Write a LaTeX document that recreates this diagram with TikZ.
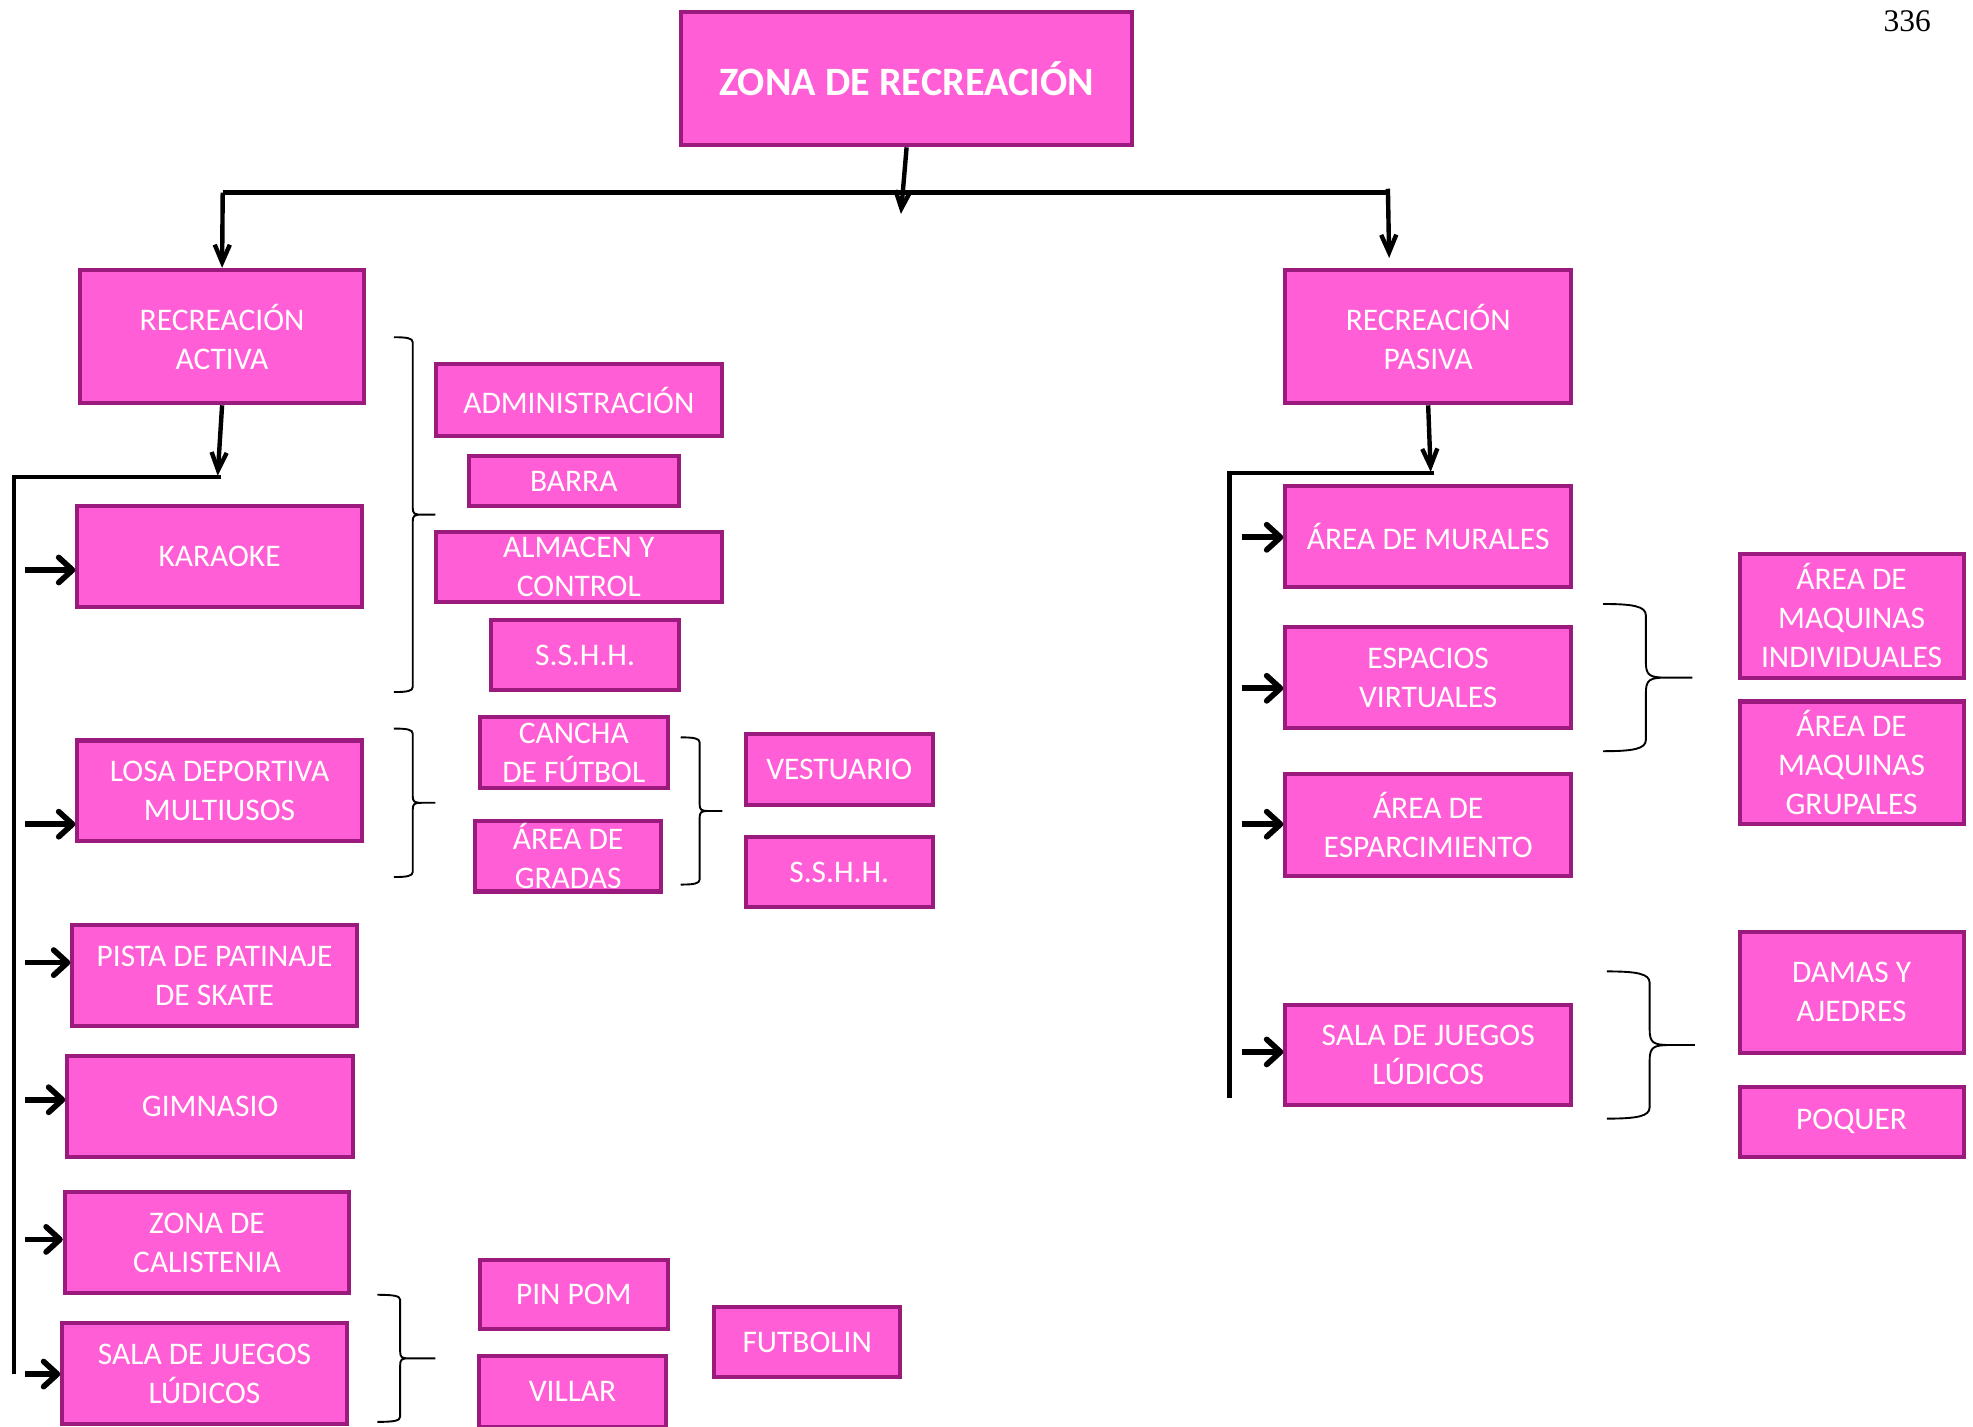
\documentclass[tikz,border=0pt]{standalone}
\usepackage{fontspec}
\setmainfont{Carlito}
\newfontfamily\pagina{Liberation Serif}
\usepackage{xcolor}
\usepackage{tikz}
\usetikzlibrary{arrows.meta}
\definecolor{rosa}{RGB}{255,94,214}
\definecolor{rosaborde}{RGB}{155,26,126}

\begin{document}
\begin{tikzpicture}[x=1pt,y=-1pt,
  caja/.style={draw=rosaborde,fill=rosa,line width=3.2pt,text=white,align=center,inner sep=0pt,
    font=\fontsize{25}{31}\selectfont},
  linea/.style={line width=3.5pt},
  flecha/.style={line width=4.5pt,-{Straight Barb[length=11pt,width=20pt,line width=4.5pt,round]}},
  bajada/.style={line width=3.5pt,-{Straight Barb[length=14pt,width=12pt,line width=3.5pt]}},
  llave/.style={line width=1.5pt}]
 \useasboundingbox (0,0) rectangle (1568,1134);
 % --- cabecera ---
 \node[caja,minimum width=358pt,minimum height=106pt,font=\fontsize{32}{38}\selectfont\bfseries] (zona) at (720.5,62.5) {ZONA DE RECREACIÓN};
 \node[font=\fontsize{25}{30}\pagina,anchor=base east] (pag) at (1538,25) {336};
 \node[caja,minimum width=226pt,minimum height=106pt] (activa) at (176.5,267.5) {RECREACIÓN\\ACTIVA};
 \node[caja,minimum width=227pt,minimum height=106pt] (pasiva) at (1135,267.5) {RECREACIÓN\\PASIVA};
 \coordinate (ti) at (177,153);
 \coordinate (td) at (1103,153);
 \coordinate (tz) at (716,170);
 \coordinate (tp) at (1104,205);
 \draw[bajada] (zona.south) -- (tz);
 \draw[linea] (ti) -- (td);
 \draw[bajada] (ti) -- (activa.north);
 \draw[bajada] (1103,150) -- (tp);
 % --- recreacion activa ---
 \node[caja,minimum width=226pt,minimum height=80pt] (karaoke) at (174.5,442.5) {KARAOKE};
 \node[caja,minimum width=226pt,minimum height=80pt] (losa) at (174.5,628.5) {LOSA DEPORTIVA\\MULTIUSOS};
 \node[caja,minimum width=226pt,minimum height=80pt] (pista) at (170.5,775.5) {PISTA DE PATINAJE\\DE SKATE};
 \node[caja,minimum width=227pt,minimum height=80pt] (gimnasio) at (167,879.5) {GIMNASIO};
 \node[caja,minimum width=226pt,minimum height=80pt] (calistenia) at (164.5,987.5) {ZONA DE\\CALISTENIA};
 \node[caja,minimum width=226pt,minimum height=80pt] (salaa) at (162.5,1091.5) {SALA DE JUEGOS\\LÚDICOS};
 \coordinate (ai) at (11,379);
 \coordinate (ad) at (176,379);
 \coordinate (ab) at (11,1092);
 \draw[bajada] (activa.south) -- (173,378);
 \draw[linea] (ad) -- (ai) -- (ab);
 \foreach \n/\y in {karaoke/453,losa/655,pista/765,gimnasio/874,calistenia/985,salaa/1092} {
   \coordinate (f\n) at (20,\y);
   \draw[flecha] (f\n) -- (\n.west |- f\n);
 }
 \node[caja,minimum width=227pt,minimum height=57pt] (admin) at (460,318) {ADMINISTRACIÓN};
 \node[caja,minimum width=167pt,minimum height=40pt] (barra) at (456,382.5) {BARRA};
 \node[caja,minimum width=227pt,minimum height=56pt] (almacen) at (460,450.5) {ALMACEN Y\\CONTROL};
 \node[caja,minimum width=149pt,minimum height=56pt] (sshha) at (465,520.5) {S.S.H.H.};
 \node[caja,minimum width=149pt,minimum height=57pt] (cancha) at (456,598) {CANCHA\\DE FÚTBOL};
 \node[caja,minimum width=148pt,minimum height=56pt] (gradas) at (451.5,680.5) {ÁREA DE\\GRADAS};
 \node[caja,minimum width=149pt,minimum height=56pt] (vestuario) at (667,611.5) {VESTUARIO};
 \node[caja,minimum width=149pt,minimum height=55pt] (sshhb) at (667,693) {S.S.H.H.};
 \node[caja,minimum width=149pt,minimum height=55pt] (pinpom) at (456,1029) {PIN POM};
 \node[caja,minimum width=149pt,minimum height=56pt] (villar) at (455,1106) {VILLAR};
 \node[caja,minimum width=148pt,minimum height=56pt] (futbolin) at (641.5,1066.5) {FUTBOLIN};
 % --- recreacion pasiva ---
 \node[caja,minimum width=227pt,minimum height=80pt] (murales) at (1135,426.5) {ÁREA DE MURALES};
 \node[caja,minimum width=227pt,minimum height=80pt] (virtuales) at (1135,538.5) {ESPACIOS\\VIRTUALES};
 \node[caja,minimum width=227pt,minimum height=81pt] (esparc) at (1135,656) {ÁREA DE\\ESPARCIMIENTO};
 \node[caja,minimum width=227pt,minimum height=80pt] (salap) at (1135,838.5) {SALA DE JUEGOS\\LÚDICOS};
 \coordinate (pi) at (977,376);
 \coordinate (pd) at (1140,376);
 \coordinate (pb) at (977,873);
 \draw[bajada] (pasiva.south) -- (1137,375);
 \draw[linea] (pd) -- (pi) -- (pb);
 \foreach \n/\y in {murales/427,virtuales/547,esparc/655,salap/836} {
   \coordinate (f\n) at (987,\y);
   \draw[flecha] (f\n) -- (\n.west |- f\n);
 }
 \node[caja,minimum width=178pt,minimum height=98pt] (maqind) at (1471.5,489.5) {ÁREA DE\\MAQUINAS\\INDIVIDUALES};
 \node[caja,minimum width=178pt,minimum height=97pt] (maqgrup) at (1471.5,606) {ÁREA DE\\MAQUINAS\\GRUPALES};
 \node[caja,minimum width=178pt,minimum height=96pt] (damas) at (1471.5,788.5) {DAMAS Y\\AJEDRES};
 \node[caja,minimum width=178pt,minimum height=56pt] (poquer) at (1471.5,891.5) {POQUER};
 % --- llaves ---
 \foreach \x/\v/\p/\a/\b/\r in {313/328/346/268/550/4, 313/328/346/579/697/4, 541/556/574/586/703/4,
     300/318/346/1029/1130/4, 1274/1308/1345/480/597/9, 1277/1311/1347/772/889/9} {
   \pgfmathsetmacro\m{(\a+\b)/2}
   \draw[llave] (\x,\a) .. controls ({\x+0.7*(\v-\x)},\a) and (\v,\a+0.2*\r) .. (\v,\a+\r) -- (\v,\m-1.4*\r)
     .. controls (\v,\m-0.2*\r) and (\v+0.3*\r,\m) .. (\v+1.8*\r,\m) -- (\p,\m)
     (\v+1.8*\r,\m) .. controls (\v+0.3*\r,\m) and (\v,\m+0.2*\r) .. (\v,\m+1.4*\r) -- (\v,\b-\r)
     .. controls (\v,\b-0.2*\r) and ({\x+0.7*(\v-\x)},\b) .. (\x,\b);
 }
\end{tikzpicture}
\end{document}
